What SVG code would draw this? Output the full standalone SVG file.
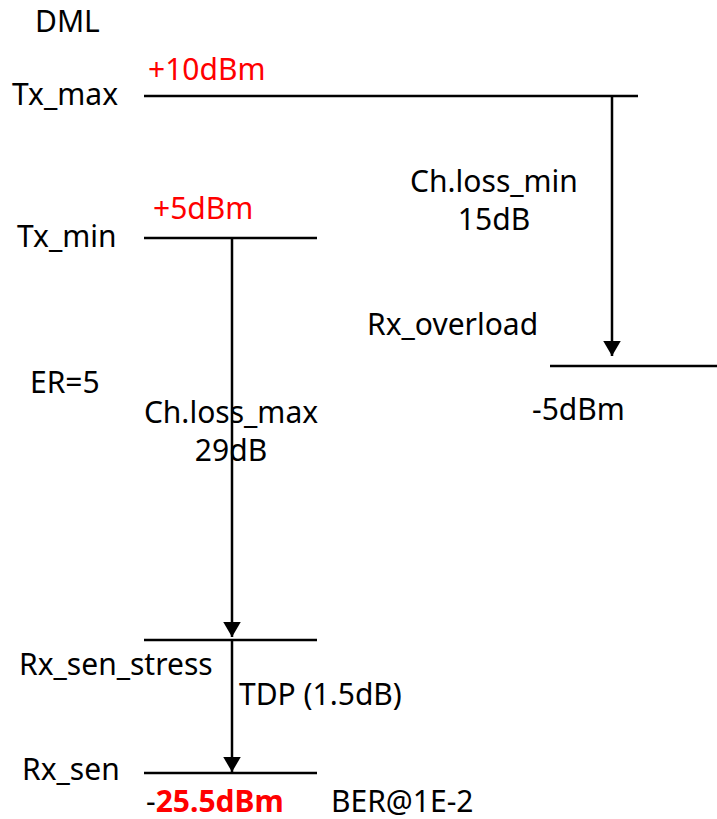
<svg xmlns="http://www.w3.org/2000/svg" width="717" height="819" viewBox="0 0 717 819">
<style>
text{font-family:"Noto Sans","Open Sans",sans-serif;font-size:30px;fill:#000}
.r{fill:#ff0000}
.b{font-weight:bold}
.lv{stroke:#000;stroke-width:2.5;fill:none}
.c{stroke:#000;stroke-width:2.5;fill:none;marker-end:url(#ah)}
</style>
<defs>
<marker id="ah" markerWidth="6" markerHeight="7" refX="6" refY="3.5" orient="auto" markerUnits="strokeWidth">
<path d="M0,0 L6,3.5 L0,7 Z" fill="#000"/>
</marker>
</defs>
<rect width="717" height="819" fill="#fff"/>
<text x="35" y="32">DML</text>
<g id="tx_max">
<line class="lv" x1="144" y1="96" x2="638" y2="96"/>
<text x="12" y="105">Tx_max</text>
<text class="r" x="148" y="80">+10dBm</text>
</g>
<g id="tx_min">
<line class="lv" x1="144" y1="238" x2="317" y2="238"/>
<text x="17" y="247">Tx_min</text>
<text class="r" x="153" y="219">+5dBm</text>
</g>
<g id="rx_overload">
<line class="lv" x1="550" y1="366" x2="717" y2="366"/>
<text x="367" y="335">Rx_overload</text>
<text x="532" y="420">-5dBm</text>
</g>
<g id="rx_sen_stress">
<line class="lv" x1="144" y1="640" x2="317" y2="640"/>
<text x="19" y="675">Rx_sen_stress</text>
</g>
<g id="rx_sen">
<line class="lv" x1="144" y1="773" x2="317" y2="773"/>
<text x="22" y="780">Rx_sen</text>
<text x="146" y="812">-<tspan class="r b">25.5dBm</tspan></text>
<text x="331" y="812">BER@1E-2</text>
</g>
<text x="30" y="393">ER=5</text>
<g id="connectors">
<line class="c" x1="612" y1="96" x2="612" y2="356"/>
<line class="c" x1="232" y1="238" x2="232" y2="637"/>
<line class="c" x1="232" y1="640" x2="232" y2="772"/>
</g>
<text x="494" y="192" text-anchor="middle">Ch.loss_min</text>
<text x="494" y="230" text-anchor="middle">15dB</text>
<text x="231" y="423" text-anchor="middle">Ch.loss_max</text>
<text x="231" y="461" text-anchor="middle">29dB</text>
<text x="239" y="705">TDP (1.5dB)</text>
</svg>
